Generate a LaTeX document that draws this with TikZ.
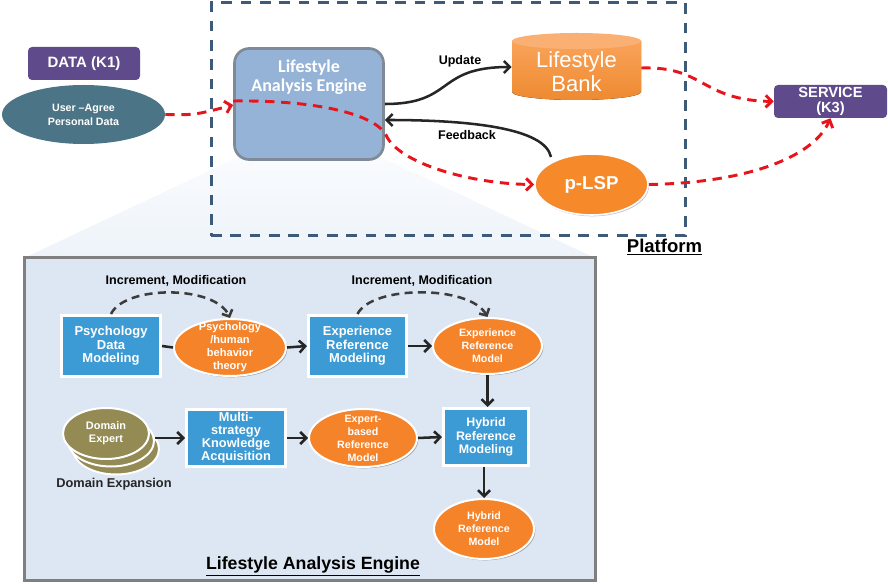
\documentclass[tikz,border=0pt]{standalone}
\usepackage{fontspec}
\setmainfont{Liberation Sans}
\newfontfamily\calib{Carlito}
\usetikzlibrary{arrows.meta,shadows,shapes.geometric}
\definecolor{purpleK}{HTML}{5F4B8B}
\definecolor{tealU}{HTML}{4B7586}
\definecolor{engineF}{HTML}{95B3D7}
\definecolor{engineD}{HTML}{7E8A97}
\definecolor{bankA}{HTML}{F9A35A}
\definecolor{bankB}{HTML}{EE8A30}
\definecolor{bankTop}{HTML}{F9B072}
\definecolor{lspO}{HTML}{F68A2B}
\definecolor{boxB}{HTML}{3C9AD4}
\definecolor{ellO}{HTML}{F5832A}
\definecolor{oliveD}{HTML}{948A54}
\definecolor{panelF}{HTML}{DDE7F3}
\definecolor{panelD}{HTML}{7F7F7F}
\definecolor{platD}{HTML}{3D5A78}
\definecolor{redD}{HTML}{E8141B}
\definecolor{arrD}{HTML}{262626}
\definecolor{zoomA}{HTML}{F9FBFE}
\definecolor{zoomB}{HTML}{EDF3F9}
\tikzset{
  kbox/.style={rectangle, rounded corners=3pt, fill=purpleK, text=white, align=center, inner sep=0pt},
  lbl/.style={inner sep=0pt, text=black, font=\bfseries\fontsize{9.4}{11}\selectfont},
  blubox/.style={rectangle, fill=boxB, draw=white, line width=2.25pt, align=center, inner sep=0pt, text=white,
    drop shadow={shadow xshift=1pt, shadow yshift=-1pt, opacity=0.3, fill=black}},
  oell/.style={ellipse, fill=ellO, draw=white, line width=1.5pt, inner sep=0pt,
    drop shadow={shadow xshift=1pt, shadow yshift=-1pt, opacity=0.3, fill=black}},
  olell/.style={ellipse, fill=oliveD, draw=white, line width=1.5pt, inner sep=0pt,
    minimum width=64.5pt, minimum height=38.25pt},
  etxt/.style={inner sep=0pt, text=white, align=center, font=\bfseries\fontsize{8}{9.75}\selectfont},
  darr/.style={draw=arrD, line width=1.9pt, -{Straight Barb[length=4.5pt,width=9pt]}},
  dcurve/.style={draw=arrD!90, line width=1.9pt, dash pattern=on 6pt off 4pt, -{Straight Barb[length=4pt,width=8.5pt]}},
  reddash/.style={draw=redD, line width=2.2pt, dash pattern=on 7pt off 5pt, -{Straight Barb[length=4.5pt,width=9pt]}},
}
\begin{document}
\begin{tikzpicture}[x=0.75pt,y=-0.75pt]
\useasboundingbox (0,0) rectangle (888,584);

% zoom trapezoid
\shade[top color=zoomA, bottom color=zoomB] (236,158) -- (383,158) -- (595,258) -- (24,258) -- cycle;

% platform box
\node[draw=platD, line width=2.25pt, dash pattern=on 8pt off 6.5pt, minimum width=355.5pt, minimum height=174.75pt, inner sep=0pt] (plat) at (448,119.5) {};
\node[inner sep=0pt, font=\bfseries\fontsize{13.9}{15}\selectfont] (platlbl) at (664.5,247) {\underline{Platform}};

% DATA and user data
\node[kbox, minimum width=84pt, minimum height=24.75pt, font=\bfseries\fontsize{11.25}{13}\selectfont] (data) at (84,63.5) {DATA (K1)};
\node[ellipse, fill=tealU, minimum width=122.25pt, minimum height=44.25pt, inner sep=0pt, text=white, align=center,
  font=\bfseries\fontsize{8}{10.5}\selectfont] (user) at (83.5,114.5) {User –Agree\\Personal Data};

% engine
\node[rectangle, rounded corners=11pt, fill=engineF, draw=engineD, line width=2pt, minimum width=111.75pt, minimum height=83.25pt, inner sep=0pt] (engine) at (309,104) {};
\node[inner sep=0pt, text=white, align=center, font=\calib\bfseries\fontsize{13.5}{14.3}\selectfont] (enginet) at (309,77) {Lifestyle\\Analysis Engine};

% lifestyle bank cylinder
\fill[top color=bankA, bottom color=bankB] (512,41) -- (512,92) arc[start angle=180, end angle=0, x radius=64.5, y radius=8] -- (641,41) -- cycle;
\fill[bankTop] (576.5,41) ellipse[x radius=64.5, y radius=8];
\node[inner sep=0pt, minimum width=96.75pt, minimum height=40pt, text=white, align=center, font=\fontsize{16.5}{18}\selectfont] (bank) at (576.5,72) {Lifestyle\\Bank};

% p-LSP
\node[ellipse, fill=lspO, draw=white, line width=1.2pt, minimum width=84.75pt, minimum height=45.75pt, inner sep=0pt, text=white,
  font=\bfseries\fontsize{14}{16}\selectfont, drop shadow={shadow xshift=0.8pt, shadow yshift=-1pt, opacity=0.25, fill=blue!40!black}] (lsp) at (591.5,184.5) {p-LSP};

% SERVICE
\node[kbox, minimum width=84.75pt, minimum height=24.75pt, font=\bfseries\fontsize{11}{11.5}\selectfont] (serv) at (830.5,101.5) {SERVICE\\(K3)};

% update / feedback
\node[lbl] (upd) at (460,61) {Update};
\node[lbl] (fb) at (467,135) {Feedback};
\draw[darr] (engine.east |- 0,104) .. controls (455,104) and (435,67) .. (bank.west |- 0,67);
\draw[darr] (lsp.north west |- 0,157) .. controls (545,128) and (470,120) .. (engine.east |- 0,120);

% red dashed flows
\draw[reddash] (user.east) .. controls (195,115) .. (engine.west |- 0,105);
\draw[reddash] (engine.west |- 0,101) .. controls (320,100) and (375,115) .. (386,135) .. controls (398,163) and (470,184) .. (lsp.west);
\draw[reddash] (bank.east |- 0,68) .. controls (705,66) and (700,100) .. (serv.west);
\draw[reddash] (lsp.east) .. controls (740,183) and (812,160) .. (serv.south);

% ===== panel =====
\node[rectangle, fill=panelF, draw=panelD, line width=2.25pt, minimum width=428.25pt, minimum height=241.5pt, inner sep=0pt] (panel) at (309.5,419) {};
\node[inner sep=0pt, font=\bfseries\fontsize{13.3}{15}\selectfont] (paneltitle) at (313,566) {\underline{Lifestyle Analysis Engine}};

\node[lbl] (inc1) at (176,281) {Increment, Modification};
\node[lbl] (inc2) at (422,281) {Increment, Modification};

% row 1
\node[blubox, minimum width=74.25pt, minimum height=45.75pt, font=\bfseries\fontsize{9.75}{10.1}\selectfont] (pdm) at (111,346) {Psychology\\Data\\Modeling};
\node[oell, minimum width=84pt, minimum height=42.75pt] (psy) at (230,347.5) {};
\node[etxt, font=\bfseries\fontsize{8.3}{9.75}\selectfont] (psyt) at (psy.center) {Psychology\\/human\\behavior\\theory};
\node[blubox, minimum width=73.5pt, minimum height=45.75pt, font=\bfseries\fontsize{9.7}{10.1}\selectfont] (erm) at (357.5,346) {Experience\\Reference\\Modeling};
\node[oell, minimum width=81.75pt, minimum height=42pt] (ermod) at (487.5,346) {};
\node[etxt] (ermodt) at (ermod.center) {Experience\\Reference\\Model};

% row 2
\node[olell] (de3) at (116,449) {};
\node[olell] (de2) at (111,441) {};
\node[olell] (de1) at (106,433.5) {};
\node[etxt, font=\bfseries\fontsize{8.2}{9.75}\selectfont] (de1t) at (de1.center) {Domain\\Expert};
\node[inner sep=0pt, font=\bfseries\fontsize{9.6}{11}\selectfont, text=black!85] (dexp) at (114,484) {Domain Expansion};

\node[blubox, minimum width=74.25pt, minimum height=42.75pt, font=\bfseries\fontsize{9.6}{9.75}\selectfont] (mka) at (236,438) {Multi-\\strategy\\Knowledge\\Acquisition};
\node[oell, minimum width=81pt, minimum height=43.5pt] (exp) at (363,438) {};
\node[etxt] (expt) at (exp.center) {Expert-\\based\\Reference\\Model};
\node[blubox, minimum width=63.75pt, minimum height=42.75pt, font=\bfseries\fontsize{9.3}{10.3}\selectfont] (hrm) at (486,437) {Hybrid\\Reference\\Modeling};
\node[oell, minimum width=75pt, minimum height=45pt] (hrmod) at (484,529) {};
\node[etxt] (hrmodt) at (hrmod.center) {Hybrid\\Reference\\Model};

% arrows
\draw[draw=arrD, line width=1.9pt] (pdm.east) -- (psy.west);
\draw[darr] (psy.east) -- (erm.west);
\draw[darr] (erm.east) -- (ermod.west);
\draw[darr] (de2.east |- mka.west) -- (mka.west);
\draw[darr] (mka.east) -- (exp.west);
\draw[darr] (exp.east) -- (hrm.west);
\draw[darr] (ermod.south) -- (ermod.south |- hrm.north);
\draw[darr] (hrm.south -| hrmod.north) -- (hrmod.north);

\draw[dcurve] (pdm.north) .. controls (125,285) and (215,285) .. (psy.north);
\draw[dcurve] (erm.north) .. controls (372,285) and (470,285) .. (ermod.north);
\end{tikzpicture}
\end{document}
